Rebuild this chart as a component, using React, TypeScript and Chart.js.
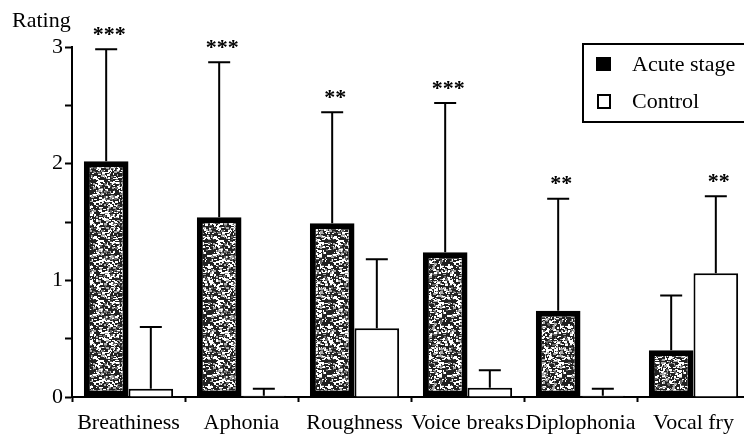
import React, { useEffect, useRef } from "react";
import { Chart, registerables } from "chart.js";

Chart.register(...registerables);

const categories = ["Breathiness", "Aphonia", "Roughness", "Voice breaks", "Diplophonia", "Vocal fry"];
const acuteValues = [2.02, 1.54, 1.49, 1.24, 0.74, 0.4];
const acuteErrorTop = [2.98, 2.87, 2.44, 2.52, 1.7, 0.87];
const controlValues = [0.07, 0.01, 0.59, 0.08, 0.01, 1.06];
const controlErrorTop = [0.6, 0.07, 1.18, 0.23, 0.07, 1.72];
const significance = ["***", "***", "**", "***", "**", "**"];
const yTicks = [0, 1, 2, 3];
const seriesLabels = ["Acute stage", "Control"];

const FONT = "'Liberation Serif', 'Times New Roman', serif";

function makePattern(): CanvasPattern | string {
  const c = document.createElement("canvas");
  c.width = 60;
  c.height = 60;
  const ctx = c.getContext("2d");
  if (!ctx) return "#555";
  ctx.fillStyle = "#222";
  ctx.fillRect(0, 0, 60, 60);
  let s = 98765;
  const next = () => {
    s = (s * 1103515245 + 12345) & 0x7fffffff;
    return s / 0x7fffffff;
  };
  for (let i = 0; i < 900; i++) {
    const x = Math.floor(next() * 60);
    const y = Math.floor(next() * 60);
    const w = 1 + Math.floor(next() * 3);
    const h = 1 + Math.floor(next() * 2);
    const r = next();
    ctx.fillStyle = r > 0.45 ? "#fff" : r > 0.2 ? "#aaa" : "#666";
    ctx.fillRect(x, y, w, h);
  }
  const p = ctx.createPattern(c, "repeat");
  return p || "#555";
}

const errorBarPlugin = {
  id: "errorBars",
  afterDatasetsDraw(chart: any) {
    const ctx = chart.ctx;
    const y = chart.scales.y;
    const errs = [acuteErrorTop, controlErrorTop];
    ctx.save();
    ctx.strokeStyle = "#000";
    ctx.lineWidth = 2;
    for (let d = 0; d < 2; d++) {
      const meta = chart.getDatasetMeta(d);
      meta.data.forEach((bar: any, i: number) => {
        const x = bar.x;
        const top = y.getPixelForValue(errs[d][i]);
        const base = bar.y;
        ctx.beginPath();
        ctx.moveTo(x, base);
        ctx.lineTo(x, top);
        ctx.moveTo(x - 11, top);
        ctx.lineTo(x + 11, top);
        ctx.stroke();
      });
    }
    // significance stars
    ctx.fillStyle = "#000";
    ctx.font = `bold 22px ${FONT}`;
    ctx.textAlign = "center";
    ctx.textBaseline = "middle";
    categories.forEach((_, i) => {
      const d = acuteErrorTop[i] >= controlErrorTop[i] ? 0 : 1;
      const bar: any = chart.getDatasetMeta(d).data[i];
      const top = y.getPixelForValue(Math.max(acuteErrorTop[i], controlErrorTop[i]));
      const stars = significance[i].split("");
      const gap = 11;
      const x0 = bar.x + 3 - ((stars.length - 1) * gap) / 2;
      stars.forEach((st, k) => {
        ctx.fillText(st, x0 + k * gap, top - 14);
      });
    });
    // Rating label
    ctx.font = `22px ${FONT}`;
    ctx.textAlign = "left";
    ctx.textBaseline = "alphabetic";
    ctx.fillText("Rating", 12, 27);

    // legend
    ctx.lineWidth = 2;
    ctx.strokeRect(583, 44, 170, 78);
    ctx.fillRect(596, 57, 15, 14);
    ctx.lineWidth = 2;
    ctx.strokeRect(598, 95, 12, 13);
    ctx.font = `22px ${FONT}`;
    ctx.fillText(seriesLabels[0], 632, 71);
    ctx.fillText(seriesLabels[1], 632, 108);
    ctx.restore();
  },
};

export default function App() {
  const ref = useRef<HTMLCanvasElement | null>(null);
  useEffect(() => {
    document.body.style.margin = "0";
    document.body.style.overflow = "hidden";
    const canvas = ref.current;
    if (!canvas) return;
    const pattern = makePattern();
    const chart = new Chart(canvas, {
      type: "bar",
      data: {
        labels: categories,
        datasets: [
          {
            label: seriesLabels[0],
            data: acuteValues,
            backgroundColor: pattern as any,
            borderColor: "#000",
            borderWidth: 6,
            borderSkipped: false,
            categoryPercentage: 0.79,
            barPercentage: 1.0,
          },
          {
            label: seriesLabels[1],
            data: controlValues,
            backgroundColor: "#fff",
            borderColor: "#000",
            borderWidth: 2,
            borderSkipped: "bottom",
            categoryPercentage: 0.79,
            barPercentage: 1.0,
          },
        ],
      },
      options: {
        responsive: false,
        animation: false,
        layout: { padding: { left: 0, right: 2, top: 47, bottom: 0 } },
        plugins: { legend: { display: false }, tooltip: { enabled: false } },
        scales: {
          x: {
            grid: {
              display: true,
              drawOnChartArea: false,
              drawTicks: true,
              tickLength: 5,
              tickWidth: 2,
              tickColor: "#000",
              offset: true,
            },
            border: { display: true, color: "#000", width: 2 },
            ticks: {
              color: "#000",
              font: { family: FONT, size: 22 },
              padding: 8,
              maxRotation: 0,
              autoSkip: false,
            },
            afterFit(scale: any) {
              scale.height = 44;
            },
          },
          y: {
            min: 0,
            max: 3,
            grid: {
              display: true,
              drawOnChartArea: false,
              drawTicks: true,
              tickLength: 7,
              tickWidth: 2,
              tickColor: "#000",
            },
            border: { display: true, color: "#000", width: 2 },
            ticks: {
              stepSize: 0.5,
              color: "#000",
              font: { family: FONT, size: 22 },
              padding: 2,
              callback: (v: any) => (yTicks.includes(Number(v)) ? String(v) : ""),
            },
            afterFit(scale: any) {
              scale.width = 72;
            },
          },
        },
      },
      plugins: [errorBarPlugin],
    });
    return () => chart.destroy();
  }, []);
  return (
    <div style={{ position: "fixed", left: 0, top: 0, width: 752, height: 441, background: "#fff" }}>
      <canvas ref={ref} width={752} height={441} style={{ display: "block" }} />
    </div>
  );
}
